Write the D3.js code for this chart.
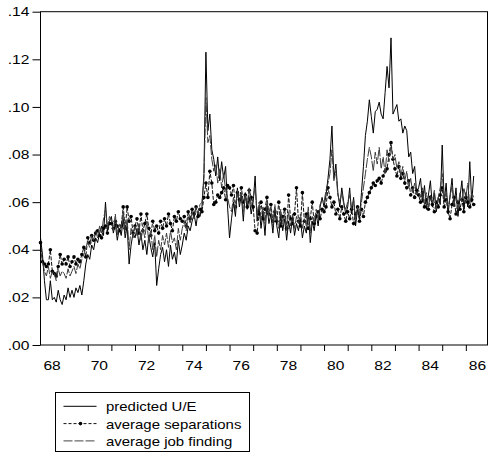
<!DOCTYPE html>
<html>
<head>
<meta charset="utf-8">
<script src="https://cdn.jsdelivr.net/npm/d3@7"></script>
<style>
body { margin: 0; background: #fff; }
svg { display: block; font-family: "Liberation Sans", Arial, sans-serif; }
</style>
</head>
<body>
<svg id="chart" width="489" height="454"></svg>
<script>
// monthly, 1968:01 - 1986:05
var startYear = 1968;
var endYear = 1986 + 11 / 12;

var predicted = [
    .045,.038,.027,.019,.019,.027,.019,.020,.018,.023,.019,.017,
    .021,.019,.024,.020,.023,.020,.024,.022,.025,.021,.027,.034,
    .038,.036,.042,.040,.045,.043,.047,.050,.046,.060,.048,.052,
    .054,.047,.051,.044,.049,.046,.053,.045,.050,.034,.042,.047,
    .045,.049,.042,.047,.040,.044,.038,.046,.041,.037,.043,.025,
    .032,.038,.041,.035,.040,.033,.042,.036,.039,.034,.044,.038,
    .042,.047,.044,.050,.048,.052,.055,.050,.056,.054,.058,.072,
    .123,.090,.097,.082,.078,.071,.079,.069,.077,.070,.075,.058,
    .045,.053,.060,.054,.066,.058,.063,.052,.064,.057,.062,.055,
    .060,.071,.052,.058,.049,.056,.046,.059,.051,.055,.047,.057,
    .050,.045,.055,.048,.053,.044,.052,.047,.054,.046,.051,.048,
    .053,.045,.050,.047,.056,.043,.052,.048,.055,.050,.058,.062,
    .058,.063,.070,.078,.092,.070,.076,.064,.058,.066,.060,.055,
    .058,.066,.055,.062,.050,.057,.053,.064,.075,.088,.094,.103,
    .096,.089,.098,.099,.102,.097,.095,.106,.117,.108,.129,.097,
    .099,.101,.094,.095,.089,.092,.090,.079,.081,.072,.075,.064,
    .066,.070,.060,.067,.057,.063,.069,.058,.064,.056,.062,.059,
    .084,.060,.068,.055,.063,.070,.058,.066,.054,.062,.069,.057,
    .064,.058,.077,.060,.071
];

var separations = [
    .043,.035,.034,.033,.034,.040,.031,.030,.029,.033,.038,.034,
    .036,.034,.037,.033,.035,.037,.034,.036,.035,.038,.041,.037,
    .045,.043,.046,.044,.047,.048,.046,.045,.049,.050,.047,.051,
    .051,.049,.052,.050,.048,.050,.058,.049,.058,.052,.054,.047,
    .050,.053,.047,.055,.048,.051,.055,.049,.046,.052,.048,.050,
    .047,.052,.049,.053,.050,.055,.051,.048,.054,.052,.056,.053,
    .052,.054,.050,.056,.053,.057,.055,.058,.054,.057,.056,.062,
    .068,.062,.073,.068,.059,.060,.063,.062,.064,.066,.061,.067,
    .066,.063,.067,.058,.064,.061,.066,.060,.063,.058,.065,.062,
    .058,.048,.047,.055,.060,.053,.057,.062,.055,.059,.052,.056,
    .052,.060,.050,.054,.057,.049,.063,.053,.051,.055,.066,.052,
    .050,.064,.052,.055,.049,.053,.060,.051,.054,.056,.053,.057,
    .056,.058,.066,.062,.058,.060,.055,.057,.053,.058,.055,.052,
    .056,.053,.057,.051,.055,.058,.052,.057,.054,.060,.062,.064,
    .066,.068,.067,.069,.070,.068,.071,.073,.074,.080,.085,.078,
    .074,.071,.075,.070,.072,.068,.066,.069,.063,.066,.062,.065,
    .063,.060,.064,.058,.061,.057,.062,.059,.056,.060,.058,.063,
    .066,.058,.061,.056,.053,.059,.062,.055,.060,.057,.061,.056,
    .062,.060,.058,.061,.059
];

var jobFinding = [
    .040,.035,.031,.029,.033,.028,.031,.030,.027,.032,.029,.031,
    .030,.028,.032,.029,.031,.033,.030,.034,.032,.036,.038,.041,
    .043,.041,.046,.044,.048,.045,.050,.047,.053,.057,.049,.054,
    .052,.048,.055,.046,.051,.049,.056,.047,.053,.040,.049,.045,
    .050,.046,.051,.044,.049,.045,.052,.043,.048,.040,.046,.037,
    .044,.040,.046,.042,.047,.041,.048,.043,.045,.040,.049,.044,
    .049,.052,.048,.054,.051,.056,.053,.058,.055,.059,.060,.070,
    .104,.085,.088,.078,.073,.076,.068,.074,.066,.072,.065,.062,
    .058,.056,.062,.057,.065,.060,.064,.056,.063,.059,.066,.058,
    .062,.066,.055,.060,.053,.058,.051,.061,.054,.058,.050,.059,
    .053,.049,.057,.051,.055,.048,.056,.050,.055,.049,.054,.051,
    .055,.049,.053,.050,.058,.047,.054,.051,.057,.053,.059,.061,
    .060,.065,.068,.072,.082,.069,.073,.063,.060,.064,.059,.057,
    .060,.063,.057,.061,.053,.058,.055,.060,.066,.072,.078,.083,
    .079,.073,.081,.076,.083,.074,.079,.072,.082,.077,.084,.078,
    .080,.074,.077,.071,.075,.069,.073,.066,.070,.064,.068,.063,
    .065,.062,.066,.059,.064,.058,.063,.060,.065,.057,.062,.066,
    .072,.061,.064,.058,.062,.067,.059,.063,.057,.064,.060,.066,
    .062,.068,.059,.064,.062
];

var yTicks = [0, .02, .04, .06, .08, .10, .12, .14];
var yearTicks = d3.range(1969, 1987);
var yearLabels = [1968, 1970, 1972, 1974, 1976, 1978, 1980, 1982, 1984, 1986];
var legendNames = ["predicted U/E", "average separations", "average job finding"];

var svg = d3.select("#chart"),
    margin = { top: 11.7, right: 1.5, bottom: 109, left: 40.5 };

var width = 489 - margin.left - margin.right,
    height = 454 - margin.top - margin.bottom;

var g = svg.append("g").attr("transform", "translate(" + margin.left + "," + margin.top + ")");

var x = d3.scaleLinear().domain([startYear, endYear]).range([0, width]);
var y = d3.scaleLinear().domain([0, .14]).range([height, 0]);

function monthX(d, i) { return x(startYear + i / 12); }

// axes
var yAxis = g.append("g")
    .call(d3.axisLeft(y).tickValues(yTicks).tickSize(8)
        .tickFormat(function(d) { return d3.format(".2f")(d).replace(/^0/, ""); }));
yAxis.select(".domain").remove();
yAxis.selectAll("text")
    .attr("x", -9.3)
    .attr("transform", "scale(1.2,1)")
    .style("font-size", "13px");

var xTicks = g.append("g")
    .attr("transform", "translate(0," + height + ")")
    .call(d3.axisBottom(x).tickValues(yearTicks).tickSize(6).tickFormat(""));
xTicks.select(".domain").remove();

var xLabels = g.append("g")
    .attr("transform", "translate(0," + height + ")")
    .call(d3.axisBottom(x).tickValues(yearLabels.map(function(d) { return d + .47; }))
        .tickSize(0).tickPadding(15.5)
        .tickFormat(function(d) { return String(Math.floor(d)).slice(2); }));
xLabels.select(".domain").remove();
xLabels.selectAll("text")
    .attr("transform", "scale(1.2,1)")
    .style("font-size", "13px");

svg.selectAll(".tick line").attr("stroke", "#000");
svg.selectAll(".tick text").attr("fill", "#000").attr("font-family", null);

// series
var line = d3.line().x(monthX).y(function(d) { return y(d); });

g.append("path")
    .datum(predicted)
    .attr("fill", "none")
    .attr("stroke", "#000")
    .attr("stroke-width", 1)
    .attr("d", line);

g.append("path")
    .datum(separations)
    .attr("fill", "none")
    .attr("stroke", "#111")
    .attr("stroke-width", 1)
    .attr("stroke-dasharray", "4,1.5")
    .attr("d", line);

g.selectAll(".dot")
    .data(separations)
    .enter().append("circle")
    .attr("class", "dot")
    .attr("cx", monthX)
    .attr("cy", function(d) { return y(d); })
    .attr("r", 1.8)
    .attr("fill", "#000");

g.append("path")
    .datum(jobFinding)
    .attr("fill", "none")
    .attr("stroke", "#3c3c3c")
    .attr("stroke-width", 1)
    .attr("stroke-dasharray", "10,1.5")
    .attr("d", line);

// frame
g.append("rect")
    .attr("width", width)
    .attr("height", height)
    .attr("fill", "none")
    .attr("stroke", "#000")
    .attr("stroke-width", 1);

// legend
var legend = svg.append("g").attr("transform", "translate(55.5,392.5)");

legend.append("rect")
    .attr("width", 194)
    .attr("height", 59)
    .attr("fill", "#fff")
    .attr("stroke", "#000")
    .attr("stroke-width", 1);

var styles = [
    { stroke: "#000", dash: null, dot: false },
    { stroke: "#111", dash: "3,2", dot: true },
    { stroke: "#444", dash: "9,2", dot: false }
];

var rows = legend.selectAll(".row")
    .data(legendNames)
    .enter().append("g")
    .attr("class", "row")
    .attr("transform", function(d, i) { return "translate(0," + (13.8 + i * 17.3) + ")"; });

rows.append("line")
    .attr("x1", 8).attr("x2", 41)
    .attr("stroke", function(d, i) { return styles[i].stroke; })
    .attr("stroke-dasharray", function(d, i) { return styles[i].dash; });

rows.filter(function(d, i) { return styles[i].dot; })
    .append("circle")
    .attr("cx", 25).attr("r", 1.8).attr("fill", "#000");

rows.append("text")
    .attr("transform", "translate(50.5,5) scale(1.15,1)")
    .style("font-size", "13px")
    .attr("fill", "#000")
    .text(function(d) { return d; });
</script>
</body>
</html>
